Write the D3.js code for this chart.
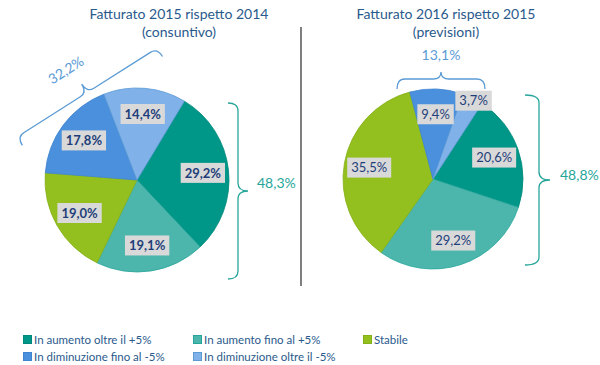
<!DOCTYPE html>
<html>
<head>
<meta charset="utf-8">
<script src="https://cdn.jsdelivr.net/npm/d3@7"></script>
<style>
  body { margin: 0; background: #fff; }
  svg { font-family: Lato, "Open Sans", sans-serif; }
</style>
</head>
<body>
<div id="chart"></div>
<script>
// categories and values
var categories = ["In aumento oltre il +5%", "In aumento fino al +5%", "Stabile",
                  "In diminuzione fino al -5%", "In diminuzione oltre il -5%"];
var values2015 = [29.2, 19.1, 19.0, 17.8, 14.4];
var values2016 = [20.6, 29.2, 35.5, 9.4, 3.7];
var titles2015 = ["Fatturato 2015 rispetto 2014", "(consuntivo)"];
var titles2016 = ["Fatturato 2016 rispetto 2015", "(previsioni)"];
var bracketText2015 = ["48,3%", "32,2%"];
var bracketText2016 = ["48,8%", "13,1%"];

var colors = ["#009688", "#4db6ac", "#93c01f", "#4a90dc", "#80b1e8"];
var strokes = ["#00897b", "#26a69a", "#86b01a", "#3f84d0", "#5b9bd5"];
var navy = "#1f3f7a";
var teal = "#26a69a";
var lightBlue = "#5b9bd5";

var width = 600, height = 365;

var svg = d3.select("#chart").append("svg")
  .attr("width", width)
  .attr("height", height);

var fmt = function (v) { return v.toFixed(1).replace(".", ","); };

// curly brace from (0,0) to (len,0); tips toward +y, notch toward -y
function bracePath(len, tip, notch) {
  var r = Math.min(8, len / 6);
  var m = len / 2;
  return "M0," + tip + " Q0,0 " + r + ",0" +
    " L" + (m - r) + ",0 Q" + m + ",0 " + m + "," + (-notch) +
    " Q" + m + ",0 " + (m + r) + ",0" +
    " L" + (len - r) + ",0 Q" + len + ",0 " + len + "," + tip;
}

function drawBrace(x, y, angle, len, tip, notch, color) {
  svg.append("path")
    .attr("d", bracePath(len, tip, notch))
    .attr("transform", "translate(" + x + "," + y + ") rotate(" + angle + ")")
    .attr("fill", "none")
    .attr("stroke", color)
    .attr("stroke-width", 1.3);
}

function drawPie(values, opts) {
  var g = svg.append("g")
    .attr("transform", "translate(" + opts.cx + "," + opts.cy + ")");

  var pie = d3.pie().sort(null).value(function (d) { return d; })
    .startAngle(opts.start * Math.PI / 180)
    .endAngle((opts.start + 360) * Math.PI / 180);

  var arc = d3.arc().innerRadius(0).outerRadius(opts.r);
  var arcs = pie(values);

  g.selectAll("path.slice")
    .data(arcs)
    .enter().append("path")
    .attr("class", "slice")
    .attr("d", arc)
    .attr("fill", function (d, i) { return colors[i]; })
    .attr("stroke", function (d, i) { return strokes[i]; })
    .attr("stroke-width", 0.8);

  var labels = g.selectAll("g.lab")
    .data(arcs)
    .enter().append("g")
    .attr("class", "lab")
    .attr("transform", function (d, i) {
      var k = d.data < 5 ? 0.97 : opts.labelK;
      var a = d3.arc().innerRadius(opts.r * k).outerRadius(opts.r * k);
      var c = a.centroid(d);
      if (d.data < 5) c[0] += 2;
      return "translate(" + c[0] + "," + c[1] + ")";
    });

  var texts = labels.append("text")
    .attr("text-anchor", "middle")
    .attr("dy", "0.36em")
    .attr("fill", navy)
    .style("font-size", "13px")
    .style("font-weight", opts.bold ? "bold" : "normal")
    .text(function (d) { return fmt(d.data) + "%"; });

  texts.each(function () {
    var w = this.getComputedTextLength();
    d3.select(this.parentNode).insert("rect", "text")
      .attr("x", -w / 2 - 4)
      .attr("y", -10)
      .attr("width", w + 8)
      .attr("height", 20)
      .attr("fill", "#d9d9d9");
  });

  svg.selectAll(null)
    .data(opts.titles)
    .enter().append("text")
    .attr("x", opts.titleX)
    .attr("y", function (d, i) { return 19 + i * 18; })
    .attr("text-anchor", "middle")
    .attr("fill", "#2a5a8c")
    .style("font-size", "14px")
    .text(function (d) { return d; });
}

drawPie(values2015, { cx: 137, cy: 180, r: 92, start: 31, labelK: 0.72, bold: true,
  titles: titles2015, titleX: 179 });
drawPie(values2016, { cx: 433, cy: 179, r: 90, start: 33, labelK: 0.72, bold: false,
  titles: titles2016, titleX: 446 });

// separator
svg.append("line")
  .attr("x1", 301).attr("x2", 301)
  .attr("y1", 27).attr("y2", 286)
  .attr("stroke", "#7f7f7f")
  .attr("stroke-width", 2);

// braces, left chart
drawBrace(238, 103, 90, 176, 10, 10, teal);
svg.append("text").attr("x", 257).attr("y", 183).attr("dy", "0.36em")
  .attr("fill", teal).style("font-size", "14px").text(bracketText2015[0]);

drawBrace(17, 137, -32.4, 166, 10, 10, lightBlue);
svg.append("text")
  .attr("transform", "translate(66,70) rotate(-32.4)")
  .attr("text-anchor", "middle").attr("dy", "0.36em")
  .attr("fill", lightBlue).style("font-size", "14px").text(bracketText2015[1]);

// braces, right chart
drawBrace(539, 95, 90, 170, 14, 11, teal);
svg.append("text").attr("x", 560).attr("y", 175).attr("dy", "0.36em")
  .attr("fill", teal).style("font-size", "14px").text(bracketText2016[0]);

drawBrace(397, 79, 0, 88, 10, 7, lightBlue);
svg.append("text").attr("x", 441).attr("y", 55).attr("dy", "0.36em")
  .attr("text-anchor", "middle")
  .attr("fill", lightBlue).style("font-size", "14px").text(bracketText2016[1]);

// legend
var legendX = [23, 193, 363];
var legend = svg.selectAll("g.leg")
  .data(categories)
  .enter().append("g")
  .attr("class", "leg")
  .attr("transform", function (d, i) {
    return "translate(" + legendX[i % 3] + "," + (340 + Math.floor(i / 3) * 17) + ")";
  });

legend.append("rect")
  .attr("x", 0.5).attr("y", -4.5)
  .attr("width", 8).attr("height", 8)
  .attr("fill", function (d, i) { return colors[i]; })
  .attr("stroke", function (d, i) { return strokes[i]; });

legend.append("text")
  .attr("x", 11)
  .attr("dy", "0.36em")
  .attr("fill", "#2a5a8c")
  .style("font-size", "11.5px")
  .text(function (d) { return d; });
</script>
</body>
</html>
